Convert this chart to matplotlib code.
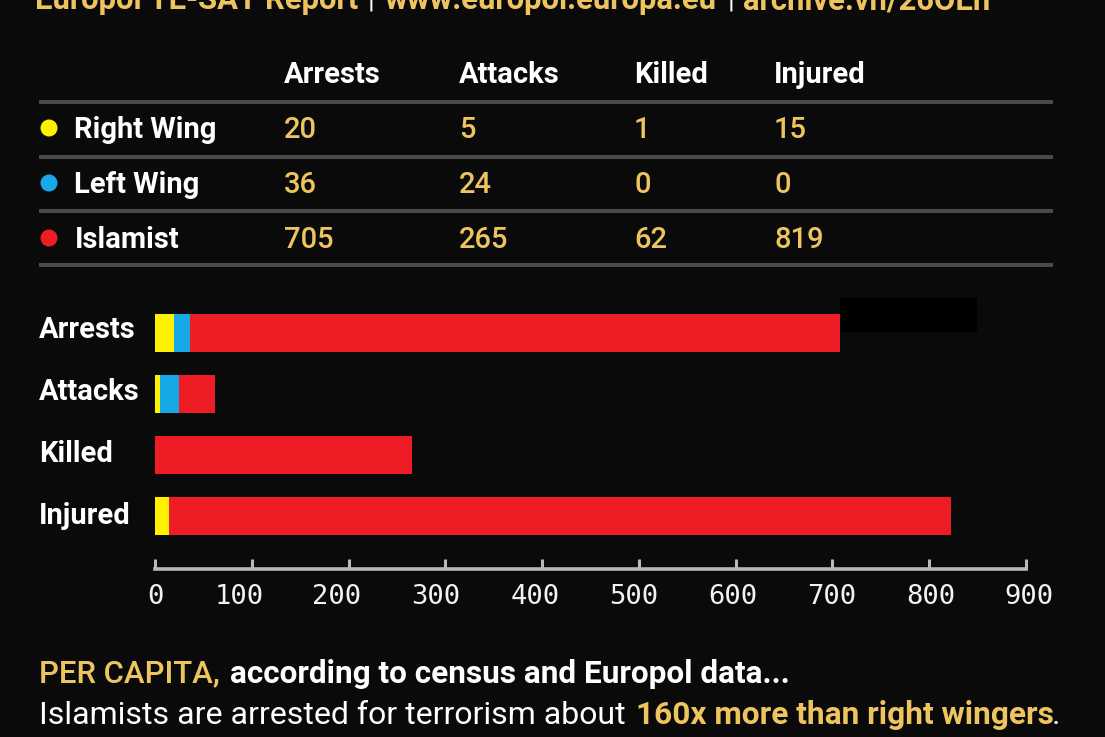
import matplotlib
matplotlib.use('Agg')
import matplotlib.pyplot as plt
import matplotlib.patches as mpatches
import numpy as np

W, H = 1105, 737
BG = '#0a0a0b'
GOLD = '#eec45f'
YELLOW = '#fff200'
BLUE = '#17a8e8'
RED = '#ee1c25'

plt.rcParams['font.family'] = ['Roboto', 'DejaVu Sans']

# table
columns = ['Arrests', 'Attacks', 'Killed', 'Injured']
groups = ['Right Wing', 'Left Wing', 'Islamist']
table_rows = [['20', '5', '1', '15'],
              ['36', '24', '0', '0'],
              ['705', '265', '62', '819']]
group_colors = [YELLOW, BLUE, RED]

# bars (they do not follow the table)
bar_labels = ['Arrests', 'Attacks', 'Killed', 'Injured']
right_vals = [20, 5, 0, 14]
left_vals = [16, 20, 0, 0]
islamist_vals = [672, 37, 266, 809]
tick_vals = [0, 100, 200, 300, 400, 500, 600, 700, 800, 900]

fig = plt.figure(figsize=(W / 100, H / 100), dpi=100, facecolor=BG)

# whole figure overlay in pixel coords
bg = fig.add_axes([0, 0, 1, 1])
bg.set_xlim(0, W)
bg.set_ylim(H, 0)
bg.axis('off')


def txt(x, y, s, size=21, color='white', weight='bold', **kw):
    kw.setdefault('va', 'center')
    return bg.text(x, y, s, fontsize=size, color=color, fontweight=weight, **kw)


# cut off source line at the top edge
txt(35, 0, 'Europol TE-SAT Report', color=GOLD, size=22.3)
txt(371, 0, '|', size=20, weight='normal', ha='center')
txt(385, 0, 'www.europol.europa.eu', color=GOLD, size=22.3)
txt(731, 0, '|', size=20, weight='normal', ha='center')
txt(743, 0, 'archive.vn/26OEn', color=GOLD, size=22.3)

col_x = [284, 459, 634, 774]
row_y = [130, 185, 240]
line_y = [102, 157, 211, 265]
group_x = [74, 74, 75]

for x, c in zip(col_x, columns):
    txt(x, 75, c)
for y in line_y:
    bg.plot([39, 1053], [y, y], color='#4a4a4a', lw=2.9, solid_capstyle='butt')
for y, gx, g, col, row in zip(row_y, group_x, groups, group_colors, table_rows):
    bg.add_patch(mpatches.Ellipse((49, y - 2), 17, 17, color=col, lw=0))
    txt(gx, y, g)
    for x, v in zip(col_x, row):
        txt(x, y, v, color=GOLD, weight='medium', size=21)

# stray black box next to the top bar
bg.add_patch(mpatches.Rectangle((840, 298), 137, 34, color='#000000', lw=0))

# bar chart
top, bottom = 302.5, 568.5
ax = fig.add_axes([155 / W, 1 - bottom / H, (1026 - 155) / W, (bottom - top) / H])
ax.patch.set_alpha(0)
ypos = np.arange(len(bar_labels))
right_vals = np.array(right_vals)
left_vals = np.array(left_vals)
islamist_vals = np.array(islamist_vals)
ax.barh(ypos, right_vals, height=0.623, color=YELLOW)
ax.barh(ypos, left_vals, left=right_vals, height=0.623, color=BLUE)
ax.barh(ypos, islamist_vals, left=right_vals + left_vals, height=0.623, color=RED)
ax.set_xlim(0, 900)
ax.set_ylim(3.86, -0.5)
for s in ['top', 'left', 'right']:
    ax.spines[s].set_visible(False)
ax.spines['bottom'].set_color('#b8b8b8')
ax.spines['bottom'].set_linewidth(2.6)
ax.set_yticks([])
ax.set_xticks(tick_vals)
ax.tick_params(axis='x', direction='in', length=7.5, width=2.2, color='#b8b8b8', labelbottom=False)

for y, lab in zip([330, 392, 454, 516], bar_labels):
    txt(39, y, lab)

# tick labels sit a little off the ticks in the original
label_x = [155, 239, 337, 436, 535, 634, 733, 832, 931, 1029]
for x, v in zip(label_x, tick_vals):
    bg.text(x, 597, str(v), fontsize=19.5, color='#f2f2f2', family='DejaVu Sans Mono', ha='center', va='center')

# footer
txt(39, 674, 'PER CAPITA,', color=GOLD, size=22.4, weight='medium')
txt(230, 674, 'according to census and Europol data...', size=22.7)
txt(39, 715, 'Islamists are arrested for terrorism about', size=23, weight='normal')
txt(636, 715, '160x more than right wingers', color=GOLD, size=22.8)
txt(1052, 715, '.', size=23, weight='normal')

fig.savefig('out.png', dpi=100, facecolor=BG)
